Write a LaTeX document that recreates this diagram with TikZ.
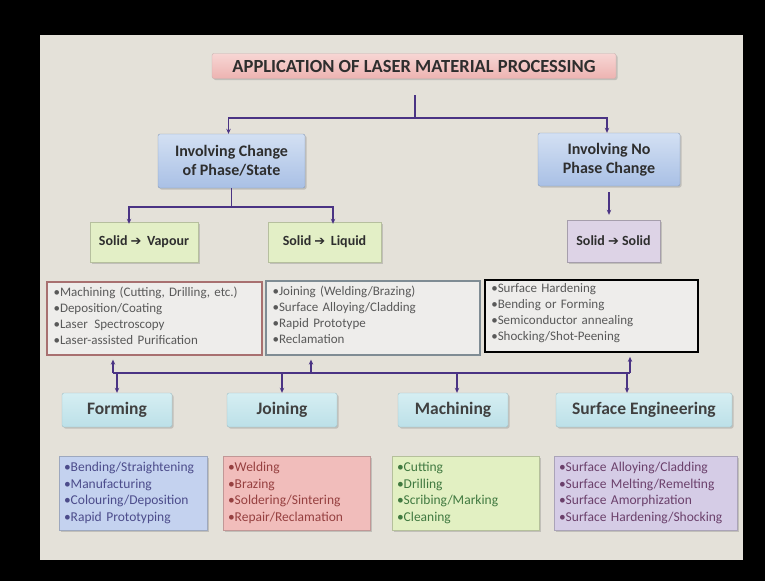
\documentclass[tikz,border=0pt]{standalone}
\usepackage{fontspec}
\setmainfont{Carlito}
\newfontfamily\symfont{DejaVu Sans}
\usetikzlibrary{arrows.meta,shadows,calc}
\definecolor{slidebg}{HTML}{E4E1D9}
\definecolor{connc}{HTML}{4A3384}
\definecolor{titletop}{HTML}{F7D6D4}
\definecolor{titlebot}{HTML}{EDB3B1}
\definecolor{bluetop}{HTML}{D3E0F3}
\definecolor{bluebot}{HTML}{A9C0E5}
\definecolor{greenf}{HTML}{E3EFC6}
\definecolor{lilacf}{HTML}{DDD3E6}
\definecolor{cyantop}{HTML}{D5EEF2}
\definecolor{cyanbot}{HTML}{BCE0E8}
\definecolor{listf}{HTML}{EEEDEB}
\definecolor{bfill}{HTML}{C4D2EF}
\definecolor{rfill}{HTML}{F1BDBB}
\definecolor{gfill}{HTML}{E2F0C2}
\definecolor{pfill}{HTML}{D5CCE6}
\definecolor{txt}{HTML}{2E2E2E}
\definecolor{l1border}{HTML}{A87070}
\definecolor{l2border}{HTML}{7F8C94}
\newcommand{\rarr}{{\symfont\fontsize{13}{13}\selectfont ➔}}
\tikzset{
  shbox/.style={rectangle, rounded corners=2pt, drop shadow={shadow xshift=1.5pt, shadow yshift=-1.5pt, opacity=0.35}},
  titlebox/.style={shbox, top color=titletop, bottom color=titlebot, draw=titlebot!70!black!60,
    minimum width=404pt, minimum height=25pt, font=\fontsize{18.5}{18.5}\selectfont\bfseries, text=txt},
  phasebox/.style={shbox, top color=bluetop, bottom color=bluebot, draw=bluebot!80!black,
    align=center, font=\fontsize{16}{19}\selectfont\bfseries, text=txt},
  statebox/.style={shbox, rounded corners=0pt, fill=greenf, draw=greenf!80!black,
    font=\fontsize{14}{15}\selectfont\bfseries, text=txt},
  listbox/.style={rectangle, align=left, anchor=north west, text width=#1, inner sep=0pt,
    font=\fontsize{13}{16}\selectfont, text=black!65},
  catbox/.style={shbox, top color=cyantop, bottom color=cyanbot, draw=cyanbot!85!black,
    minimum height=34pt, font=\fontsize{17.5}{17.5}\selectfont\bfseries, text=black!75},
  btmbox/.style={shbox, rounded corners=0pt, align=left, font=\fontsize{13.5}{16.5}\selectfont},
  line/.style={draw=connc, line width=1.3pt},
  arrow/.style={line, -{Stealth[length=5pt,width=4.5pt]}},
}
\begin{document}
\begin{tikzpicture}[x=1pt,y=-1pt]
\fill[black] (0,0) rectangle (765,581);
\useasboundingbox (0,0) rectangle (765,581);
\fill[slidebg] (40,35) rectangle (743,560);

% title
\node[titlebox] (title) at (414,66) {APPLICATION OF LASER MATERIAL PROCESSING};
\coordinate (t0) at (415,95);
\coordinate (j1) at (415,118);

% phase boxes
\node[phasebox, minimum width=147pt, minimum height=54pt] (invc) at (231.5,161) {Involving Change\\of Phase/State};
\node[phasebox, minimum width=142pt, minimum height=53pt] (invn) at (609,159.5) {Involving No\\Phase Change};

% state boxes
\node[statebox, minimum width=108pt, minimum height=40pt] (sv) at (144,242) {Solid \rarr{} \,Vapour};
\node[statebox, minimum width=113pt, minimum height=40pt] (sl) at (324.5,242) {Solid \rarr{} \,Liquid};
\node[statebox, fill=lilacf, draw=lilacf!75!black, minimum width=93pt, minimum height=42pt] (ss) at (613.5,241) {Solid \rarr{} Solid};
\coordinate (j2) at (231.5,207);

% list boxes
\node[rectangle, draw=l1border, line width=1.3pt, fill=listf, minimum width=215pt, minimum height=73pt] (l1) at (154.5,318.5) {};
\node[rectangle, draw=l2border, line width=1.3pt, fill=listf, minimum width=214pt, minimum height=74pt] (l2) at (373,318) {};
\node[rectangle, draw=black, line width=1.8pt, fill=listf, minimum width=213pt, minimum height=72pt] (l3) at (591.5,316) {};
\node[listbox=205pt] (l1t) at ([xshift=7pt,yshift=-5pt]l1.north west) {\textbullet Machining (Cutting, Drilling, etc.)\\\textbullet Deposition/Coating\\\textbullet Laser\ \,Spectroscopy\\\textbullet Laser-assisted Purification};
\node[listbox=205pt] (l2t) at ([xshift=7pt,yshift=-5pt]l2.north west) {\textbullet Joining (Welding/Brazing)\\\textbullet Surface Alloying/Cladding\\\textbullet Rapid Prototype\\\textbullet Reclamation};
\node[listbox=205pt] (l3t) at ([xshift=7pt,yshift=-4pt]l3.north west) {\textbullet Surface Hardening\\\textbullet Bending or Forming\\\textbullet Semiconductor annealing\\\textbullet Shocking/Shot-Peening};

% category boxes
\node[catbox, minimum width=110pt] (form) at (117,410) {Forming};
\node[catbox, minimum width=110pt] (join) at (282,410) {Joining};
\node[catbox, minimum width=110pt] (mach) at (453,410) {Machining};
\node[catbox, minimum width=176pt] (surf) at (644,410) {Surface Engineering};

% bus
\coordinate (busL) at (113,373);
\coordinate (bu2) at (311,373);
\coordinate (busR) at (630,373);

% bottom lists
\node[btmbox, fill=bfill, draw=bfill!80!black, text=blue!35!black!70, minimum width=148pt, minimum height=74pt, text width=138pt] (b1) at (133,493) {\textbullet Bending/Straightening\\\textbullet Manufacturing\\\textbullet Colouring/Deposition\\\textbullet Rapid Prototyping};
\node[btmbox, fill=rfill, draw=rfill!80!black, text=red!45!black!75, minimum width=147pt, minimum height=74pt, text width=137pt] (b2) at (296.5,493) {\textbullet Welding\\\textbullet Brazing\\\textbullet Soldering/Sintering\\\textbullet Repair/Reclamation};
\node[btmbox, fill=gfill, draw=gfill!80!black, text=green!30!black!75, minimum width=147pt, minimum height=74pt, text width=137pt] (b3) at (465.5,493) {\textbullet Cutting\\\textbullet Drilling\\\textbullet Scribing/Marking\\\textbullet Cleaning};
\node[btmbox, fill=pfill, draw=pfill!80!black, text=violet!45!black!75, minimum width=183pt, minimum height=74pt, text width=173pt] (b4) at (645.5,493) {\textbullet Surface Alloying/Cladding\\\textbullet Surface Melting/Remelting\\\textbullet Surface Amorphization\\\textbullet Surface Hardening/Shocking};

% connectors
\draw[line] (t0) -- (j1);
\draw[arrow] (j1) -| ([xshift=-3pt]invc.north);
\draw[arrow] (j1) -| ([xshift=-2pt]invn.north);
\draw[line] (invc.south) -- (j2);
\draw[arrow] (j2) -| ([xshift=-15pt,yshift=-2pt]sv.north);
\draw[arrow] (j2) -| ([xshift=8.5pt,yshift=-2pt]sl.north);
\draw[arrow, shorten <=6pt, shorten >=5pt] (invn.south) -- (invn.south |- ss.north);
\draw[line] (busL) -- (busR);
\draw[arrow, shorten >=4pt] (busL) -- (busL |- l1.south);
\draw[arrow, shorten >=4pt] (bu2) -- (bu2 |- l2.south);
\draw[arrow, shorten >=4pt] (busR) -- (busR |- l3.south);
\draw[arrow] (form.north |- busL) -- (form.north);
\draw[arrow] (join.north |- busL) -- (join.north);
\draw[arrow] ([xshift=4pt]mach.north |- busL) -- ([xshift=4pt]mach.north);
\draw[arrow] ([xshift=-17pt]surf.north |- busL) -- ([xshift=-17pt]surf.north);
\end{tikzpicture}
\end{document}
